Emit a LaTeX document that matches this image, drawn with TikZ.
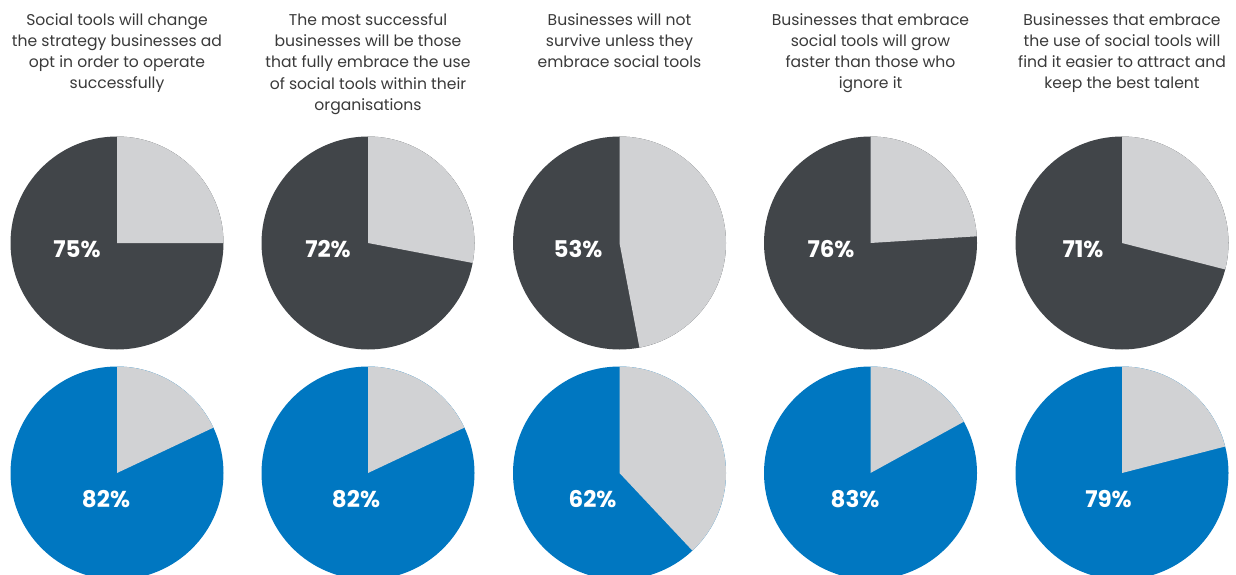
\documentclass[tikz,border=0pt]{standalone}
\usepackage{fontspec}
\setmainfont{Poppins}
\definecolor{darkslice}{HTML}{414549}
\definecolor{lightslice}{HTML}{D1D2D4}
\definecolor{blueslice}{HTML}{0077C1}
\definecolor{captiontext}{HTML}{3A3A3A}
\tikzset{
  caption/.style={anchor=north, align=center, inner sep=0pt, text=captiontext,
    font=\fontsize{15.6}{21.3}\selectfont},
  pctlabel/.style={anchor=center, inner sep=0pt, text=white,
    font=\fontsize{23}{26}\selectfont\bfseries},
}
\begin{document}
\begin{tikzpicture}[x=1pt,y=1pt]
\useasboundingbox (0,0) rectangle (1236,574);
\clip (0,0) rectangle (1236,574);
\fill[white] (0,0) rectangle (1236,574);
% top row
\foreach \n/\cx/\pct/\lx in {1/117/75/77, 2/368/72/328, 3/619.5/53/578, 4/870.5/76/831, 5/1122/71/1083} {
  \coordinate (t\n) at (\cx,331);
  \fill[darkslice] (t\n) circle[radius=106.5];
  \fill[lightslice] (t\n) -- ++(90:106.5) arc[start angle=90, end angle={90-(100-\pct)*3.6}, radius=106.5] -- cycle;
  \node[pctlabel] (tl\n) at (\lx,325) {\pct\%};
}
% bottom row
\foreach \n/\cx/\pct/\lx in {1/117/82/106, 2/368/82/356, 3/619.5/62/592.5, 4/870.5/83/855, 5/1122/79/1108.5} {
  \coordinate (b\n) at (\cx,101);
  \fill[blueslice] (b\n) circle[radius=106.5];
  \fill[lightslice] (b\n) -- ++(90:106.5) arc[start angle=90, end angle={90-(100-\pct)*3.6}, radius=106.5] -- cycle;
  \node[pctlabel] (bl\n) at (\lx,75) {\pct\%};
}
% captions
\node[caption] (c1) at (117,561) {Social tools will change\\the strategy businesses ad\\opt in order to operate\\successfully};
\node[caption] (c2) at (368,561) {The most successful\\businesses will be those\\that fully embrace the use\\of social tools within their\\organisations};
\node[caption] (c3) at (619.5,561) {Businesses will not\\survive unless they\\embrace social tools};
\node[caption] (c4) at (870.5,561) {Businesses that embrace\\social tools will grow\\faster than those who\\ignore it};
\node[caption] (c5) at (1122,561) {Businesses that embrace\\the use of social tools will\\find it easier to attract and\\keep the best talent};
\end{tikzpicture}
\end{document}
